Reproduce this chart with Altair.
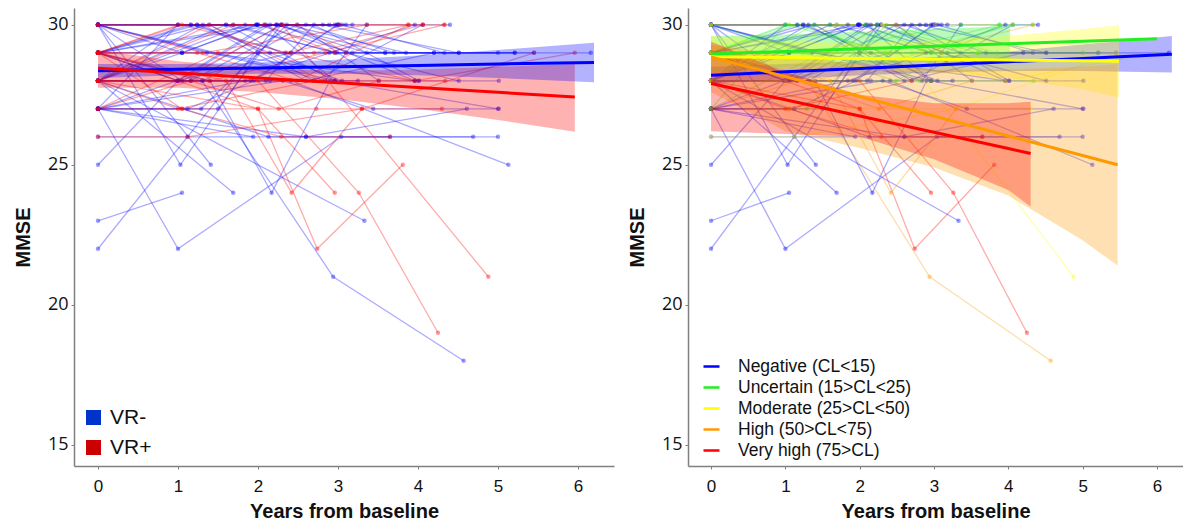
import altair as alt
import pandas as pd

# ---------------- individual trajectories (years, MMSE) ----------------
SUBJ_TIMES = [
    [0, 1.98, 3.01, 4.4], [0, 1.05, 2.0, 2.96], [0, 1.24, 2.08, 3.1], [0, 1.36, 3.96],
    [0, 2.96, 4.01], [0, 1.03, 2.0], [0, 1.41], [0, 1.0, 2.15, 3.18],
    [0, 1.16, 2.34, 3.59, 5.0], [0, 1.05, 2.89, 4.2, 5.21], [0, 2.23, 3.36, 5.45], [0, 1.3, 2.94, 4.57],
    [0, 1.4, 2.17, 2.9], [0, 1.0, 2.29, 3.05, 4.33], [0, 1.84, 2.81, 4.51], [0, 1.16, 2.49, 3.51],
    [0, 1.69], [0, 3.33], [0, 1.31, 2.6, 3.7, 6.16], [0, 2.1, 2.7, 4.01, 5.01],
    [0, 1.6, 2.96, 5.0], [0, 1.0, 3.04, 4.69], [0, 1.29, 2.36, 3.85], [0, 1.5, 2.29],
    [0, 2.31, 3.44, 5.01], [0, 1.12, 1.95, 2.99], [0, 2.6, 4.61], [0, 1.84, 3.96],
    [0, 1.12, 2.6, 5.0], [0, 1.0, 2.41], [0, 1.05], [0, 2.24],
    [0, 2.84, 3.36], [0, 1.39, 2.7, 4.06], [0, 2.41, 5.13], [0, 1.6, 2.99, 5.21],
    [0, 3.1, 4.51], [0, 2.13, 3.65], [0, 1.94], [0, 1.16, 1.98, 2.99],
    [0, 1.24, 2.15, 3.05], [0, 1.05, 1.98, 2.89], [0, 1.0, 2.23, 3.59], [0, 1.0, 1.91, 3.01],
    [0, 1.31, 2.6, 4.2], [0, 0.98, 2.1, 2.96], [0, 1.05, 2.29, 3.96], [0, 2.0, 3.18, 4.51],
    [0, 1.16, 2.15, 3.25], [0, 1.69, 2.96],
    # VR+
    [0, 1.05, 2.36, 3.88], [0, 1.39, 2.81], [0, 2.0, 2.74, 3.81], [0, 2.0, 3.26, 4.25],
    [0, 1.6, 2.42, 3.3], [0, 2.0, 2.96], [0, 1.05, 2.73, 4.3], [0, 1.05, 2.29, 3.65],
    [0, 1.31, 3.36, 4.33], [0, 1.69, 4.06], [0, 2.41, 3.96, 5.96], [0, 1.12, 3.3, 5.45],
    [0, 2.96, 4.34], [0, 1.0, 2.08, 2.96], [0, 2.49, 3.1], [0, 1.0, 2.7],
    [0, 1.16, 2.26, 3.51], [0, 1.24, 2.49, 3.88], [0, 1.0, 2.31, 3.01], [0, 1.5, 2.7, 4.06],
    [0, 1.39, 2.84, 4.33], [0, 2.3, 4.88],
]
SUBJ_MMSE = [
    [30, 30, 30, 30], [30, 29, 30, 30], [30, 30, 30, 30], [30, 29, 28],
    [30, 28, 28], [30, 25, 29], [30, 25], [29, 28, 30, 30],
    [29, 30, 29, 29, 29], [29, 29, 29, 29, 29], [29, 30, 29, 29], [29, 28, 21, 18],
    [29, 28, 24, 28], [28, 30, 30, 30, 29], [28, 30, 30, 29], [28, 28, 30, 28],
    [28, 24], [28, 23], [28, 28, 30, 29, 29], [28, 28, 30, 28, 28],
    [28, 30, 28, 27], [27, 22, 26, 26], [27, 27, 30, 29], [27, 27, 30],
    [27, 28, 27, 27], [27, 27, 28, 30], [27, 26, 27], [27, 28, 30],
    [26, 26, 26, 26], [25, 28, 29], [23, 24], [22, 30],
    [30, 28, 30], [29, 30, 28, 30], [28, 28, 25], [30, 30, 29, 29],
    [29, 29, 28], [28, 26, 26], [27, 26], [30, 30, 30, 30],
    [29, 30, 29, 28], [28, 29, 30, 30], [27, 30, 30, 29], [29, 28, 28, 30],
    [28, 30, 28, 29], [27, 28, 30, 28], [30, 28, 30, 28], [29, 30, 29, 29],
    [28, 28, 28, 28], [30, 30, 29],
    # VR+
    [29, 30, 29, 30], [28, 30, 28], [28, 27, 22, 25], [28, 28, 24, 19],
    [29, 28, 24, 27], [29, 27, 24], [29, 27, 27, 27], [27, 27, 26, 26],
    [30, 29, 30, 30], [28, 30, 30], [29, 29, 28, 29], [26, 26, 27, 29],
    [28, 28, 28], [29, 30, 30, 29], [30, 30, 29], [28, 27, 28],
    [27, 28, 27, 28], [29, 29, 28, 30], [28, 28, 30, 30], [27, 29, 29, 30],
    [29, 28, 29, 30], [30, 30, 21],
]
SUBJ_VR = ["VR-"] * 50 + ["VR+"] * 22
SUBJ_CL = (
    ["N"] * 8 + ["U", "N", "N", "H"] + ["N"] * 10 + ["U"] + ["N"] * 12 + ["U"] + ["N"] * 6
    + ["U"] + ["N"] * 7
    + ["U", "U", "V", "V", "H", "V", "M", "V", "U", "M", "M", "M", "U", "U", "H", "V",
       "H", "U", "M", "U", "H", "M"]
)

VR_DOMAIN = ["VR-", "VR+"]
VR_LINE_COLORS = ["#0000ff", "#ff0000"]
VR_KEY_COLORS = ["#0033cc", "#cc0000"]

CL_CODES = ["N", "U", "M", "H", "V"]
CL_DOMAIN = ["Negative (CL<15)", "Uncertain (15>CL<25)", "Moderate (25>CL<50)",
             "High (50>CL<75)", "Very high (75>CL)"]
CL_COLORS = ["#0000ff", "#22ee22", "#ffff00", "#ff9900", "#ff0000"]

# ---------------- fitted trajectories and confidence bands ----------------
VRN_T = [0, 1, 2, 3, 4, 5, 6.2]
VRN_FIT = [28.36, 28.41, 28.46, 28.5, 28.55, 28.6, 28.65]
VRN_LO = [28.1, 28.2, 28.25, 28.25, 28.2, 28.1, 27.95]
VRN_HI = [28.6, 28.6, 28.65, 28.75, 28.9, 29.1, 29.36]

VRP_T = [0, 1, 2, 3, 4, 5, 5.96]
VRP_FIT = [28.45, 28.28, 28.1, 27.93, 27.76, 27.59, 27.42]
VRP_LO = [27.75, 27.75, 27.6, 27.35, 27.0, 26.6, 26.18]
VRP_HI = [29.1, 28.7, 28.45, 28.35, 28.4, 28.5, 28.6]

NEG_T = [0, 1, 2, 3, 4, 5, 6.2]
NEG_FIT = [28.2, 28.32, 28.44, 28.56, 28.68, 28.8, 28.95]
NEG_LO = [27.9, 28.05, 28.2, 28.3, 28.35, 28.35, 28.3]
NEG_HI = [28.5, 28.6, 28.7, 28.85, 29.05, 29.3, 29.6]

UNC_T = [0, 1, 2, 3, 4, 5, 6.0]
UNC_FIT = [28.96, 29.05, 29.14, 29.23, 29.32, 29.41, 29.5]
UNC_BAND_T = [0, 1, 2, 3, 4.02]
UNC_LO = [28.3, 28.5, 28.6, 28.7, 28.75]
UNC_HI = [29.6, 29.65, 29.75, 29.85, 29.95]

MOD_T = [0, 1, 2, 3, 4, 5, 5.49]
MOD_FIT = [28.86, 28.83, 28.8, 28.77, 28.74, 28.72, 28.7]
MOD_LO = [28.15, 28.35, 28.4, 28.3, 28.1, 27.7, 27.4]
MOD_HI = [29.6, 29.4, 29.35, 29.45, 29.6, 29.85, 29.98]

HIGH_T = [0, 1, 2, 3, 4, 5, 5.47]
HIGH_FIT = [28.85, 28.15, 27.44, 26.74, 26.03, 25.33, 25.0]
HIGH_LO = [27.6, 26.2, 25.6, 24.9, 23.9, 22.3, 21.4]
HIGH_HI = [29.3, 28.9, 28.6, 28.4, 28.4, 28.5, 28.6]

VHIGH_T = [0, 1, 2, 3, 4, 4.3]
VHIGH_FIT = [27.9, 27.32, 26.74, 26.16, 25.58, 25.4]
VHIGH_LO = [26.2, 26.1, 26.0, 25.2, 24.1, 23.5]
VHIGH_HI = [29.4, 28.3, 27.5, 27.2, 27.2, 27.25]

X_TICKS = [0, 1, 2, 3, 4, 5, 6]
Y_TICKS = [15, 20, 25, 30]

# ---------------- tables ----------------
rows = []
for i, (ts, ms) in enumerate(zip(SUBJ_TIMES, SUBJ_MMSE)):
    cl = CL_DOMAIN[CL_CODES.index(SUBJ_CL[i])]
    for t, m in zip(ts, ms):
        rows.append({"id": i, "t": t, "mmse": m, "grp": SUBJ_VR[i], "cl": cl})
spag = pd.DataFrame(rows)


def fit_table(key_name, items):
    out = []
    for key, ts, fit in items:
        for t, f in zip(ts, fit):
            out.append({key_name: key, "t": t, "fit": f})
    return pd.DataFrame(out)


def band_table(key_name, items):
    out = []
    for key, ts, lo, hi in items:
        for t, a, b in zip(ts, lo, hi):
            out.append({key_name: key, "t": t, "lo": a, "hi": b})
    return pd.DataFrame(out)


left_fit = fit_table("grp", [("VR-", VRN_T, VRN_FIT), ("VR+", VRP_T, VRP_FIT)])
left_band = band_table("grp", [("VR+", VRP_T, VRP_LO, VRP_HI), ("VR-", VRN_T, VRN_LO, VRN_HI)])

right_fit = fit_table("cl", [
    (CL_DOMAIN[0], NEG_T, NEG_FIT), (CL_DOMAIN[1], UNC_T, UNC_FIT),
    (CL_DOMAIN[2], MOD_T, MOD_FIT), (CL_DOMAIN[3], HIGH_T, HIGH_FIT),
    (CL_DOMAIN[4], VHIGH_T, VHIGH_FIT)])
right_band = band_table("cl", [
    (CL_DOMAIN[0], NEG_T, NEG_LO, NEG_HI), (CL_DOMAIN[1], UNC_BAND_T, UNC_LO, UNC_HI),
    (CL_DOMAIN[2], MOD_T, MOD_LO, MOD_HI), (CL_DOMAIN[3], HIGH_T, HIGH_LO, HIGH_HI),
    (CL_DOMAIN[4], VHIGH_T, VHIGH_LO, VHIGH_HI)])

# ---------------- encodings ----------------
Y_DOMAIN = [14.24, 30.6]
LEFT_X = [-0.3, 6.45]
RIGHT_X = [-0.31, 6.35]

x_axis = alt.Axis(values=X_TICKS, format="d", labelFont="Liberation Sans", labelFontSize=17,
                  labelPadding=9, tickSize=3, titlePadding=7, labelFlush=False)
y_axis = alt.Axis(values=Y_TICKS, format="d", labelFont="Open Sans", labelFontSize=18,
                  labelPadding=3, tickSize=3, titlePadding=14, labelFlush=False)


def X(domain):
    return alt.X("t:Q", title="Years from baseline",
                 scale=alt.Scale(domain=domain, nice=False, zero=False), axis=x_axis)


def Y(field):
    return alt.Y(f"{field}:Q", title="MMSE",
                 scale=alt.Scale(domain=Y_DOMAIN, nice=False, zero=False), axis=y_axis)


def panel(xdom, key, domain, colors, fit_df, band_df, legend_layer, width):
    col = alt.Color(f"{key}:N", scale=alt.Scale(domain=domain, range=colors), legend=None)
    lines = alt.Chart(spag).mark_line(strokeWidth=1.3, opacity=0.33).encode(
        x=X(xdom), y=Y("mmse"), detail="id:N", order="t:Q", color=col)
    pts = alt.Chart(spag).mark_point(shape="circle", filled=True, size=20, opacity=0.4).encode(
        x=X(xdom), y=Y("mmse"), color=col)
    bands = alt.Chart(band_df).mark_area(opacity=0.3).encode(
        x=X(xdom), y=Y("lo"), y2="hi:Q", color=col)
    fits = alt.Chart(fit_df).mark_line(strokeWidth=3).encode(
        x=X(xdom), y=Y("fit"), color=col)
    return alt.layer(lines, pts, bands, fits, legend_layer).resolve_scale(
        color="independent").properties(width=width, height=458)


left_key = alt.Chart(left_fit).mark_square(opacity=0).encode(
    x=X(LEFT_X), y=Y("fit"),
    color=alt.Color("grp:N", scale=alt.Scale(domain=VR_DOMAIN, range=VR_KEY_COLORS),
                    legend=alt.Legend(title=None, orient="none", legendX=9, legendY=399,
                                      symbolType="square", symbolSize=225, symbolOpacity=1,
                                      symbolStrokeWidth=0, labelFont="Liberation Sans",
                                      labelFontSize=21, labelOffset=6, rowPadding=8,
                                      padding=0, labelColor="#111", labelLimit=0)))

right_key = alt.Chart(right_fit).mark_line(opacity=0).encode(
    x=X(RIGHT_X), y=Y("fit"),
    color=alt.Color("cl:N", scale=alt.Scale(domain=CL_DOMAIN, range=CL_COLORS),
                    legend=alt.Legend(title=None, orient="none", legendX=14, legendY=349,
                                      symbolType="stroke", symbolSize=256, symbolOpacity=1,
                                      symbolStrokeWidth=2.5, labelFont="Liberation Sans",
                                      labelFontSize=17.5, labelOffset=17, rowPadding=3,
                                      padding=0, labelColor="#111", labelLimit=0)))

left = panel(LEFT_X, "grp", VR_DOMAIN, VR_LINE_COLORS, left_fit, left_band, left_key, 540)
right = panel(RIGHT_X, "cl", CL_DOMAIN, CL_COLORS, right_fit, right_band, right_key, 495)

chart = alt.hconcat(left, right, spacing=13).properties(
    padding={"left": 5, "top": 0, "right": 0, "bottom": 0}
).configure_view(stroke=None).configure_axis(
    grid=False, domainColor="#808080", domainWidth=1.5, tickColor="#808080",
    labelColor="#111111", titleColor="#111111", titleFont="Liberation Sans",
    titleFontSize=20, titleFontWeight="bold"
)

chart.save("out.html", embed_options={"renderer": "svg", "actions": False})
